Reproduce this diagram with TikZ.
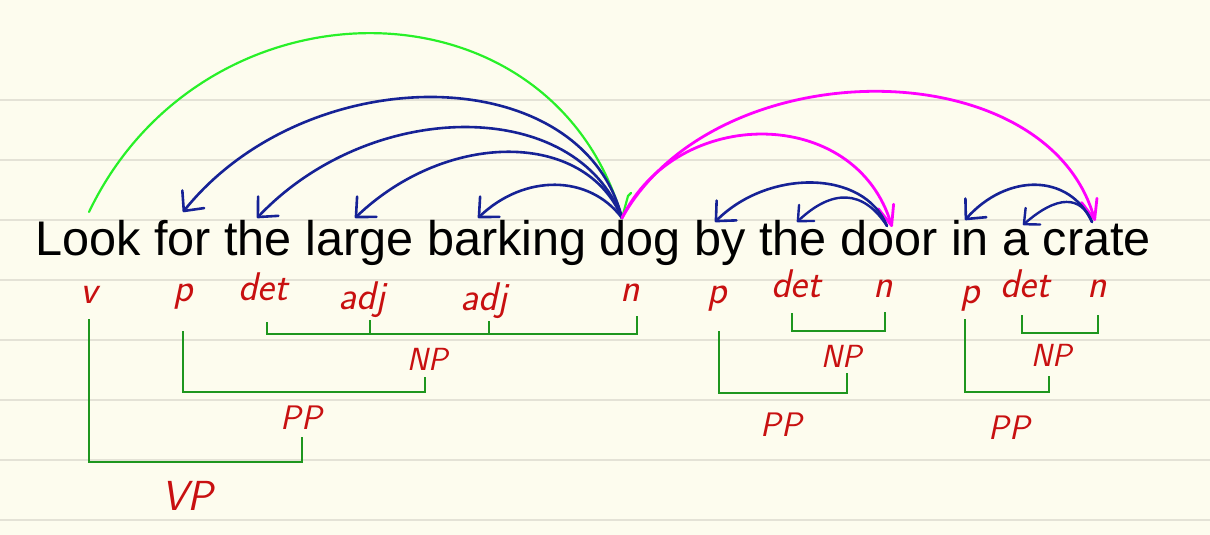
\documentclass[tikz,border=0pt]{standalone}
\usepackage{fontspec}
\newfontfamily\sent{Liberation Sans}
\usetikzlibrary{arrows.meta}
\definecolor{paper}{RGB}{253,252,238}
\definecolor{ruling}{RGB}{228,226,214}
\definecolor{inkblue}{RGB}{22,34,150}
\definecolor{inkmag}{RGB}{255,0,255}
\definecolor{inklime}{RGB}{40,240,40}
\definecolor{inkgreen}{RGB}{30,150,30}
\definecolor{inkred}{RGB}{200,16,16}
\begin{document}
\begin{tikzpicture}[x=0.5pt,y=-0.5pt,
  dep/.style={draw=inkblue,line width=1.3pt,line cap=round,line join=round,-{Straight Barb[length=7.5pt,width=14pt,round]}},
  depsmall/.style={draw=inkblue,line width=1.2pt,line cap=round,line join=round,-{Straight Barb[length=6pt,width=11pt,round]}},
  modarc/.style={draw=inkmag,line width=1.4pt,line cap=round,line join=round,-{Straight Barb[length=10pt,width=8pt,round]}},
  rootarc/.style={draw=inklime,line width=1.1pt,line cap=round},
  brk/.style={draw=inkgreen,line width=1.45pt},
  poslbl/.style={text=inkred,font=\sffamily\slshape\fontsize{20pt}{20pt}\selectfont,inner sep=0pt},
  phrlbl/.style={text=inkred,font=\sffamily\slshape\fontsize{16pt}{16pt}\selectfont,inner sep=0pt},
]
% paper
\fill[paper] (0,0) rectangle (1210,535);
\useasboundingbox (0,0) rectangle (1210,535);
\foreach \yy in {100,160,...,520}
  \draw[ruling,line width=1pt] (0,\yy) -- (1210,\yy);

% sentence
\node[anchor=base west,inner sep=0pt,font=\sent\fontsize{24.3pt}{29pt}\selectfont] (sentence) at (35,255)
  {Look for the large barking dog by the door in a crate};

% arc end points
\coordinate (hub) at (622,218);
\coordinate (gs) at (89,212);
\coordinate (tFor) at (183,212);
\coordinate (tThe) at (257,218);
\coordinate (tLarge) at (355,218);
\coordinate (tBarking) at (478,218);
\coordinate (door) at (887,226);
\coordinate (tDoor) at (892,227);
\coordinate (tBy) at (715,222);
\coordinate (tTheB) at (797,222);
\coordinate (crate) at (1092,222);
\coordinate (tCrate) at (1095,221);
\coordinate (tIn) at (965,220);
\coordinate (tA) at (1023,225);

% root arc (green)
\draw[rootarc] (gs) .. controls +(115,-240) and +(-70,-245) .. (hub);
\draw[rootarc] (hub) -- ++(6,-22) -- ++(3,-3);

% blue arcs from dog
\draw[dep] (hub) .. controls +(-41,-160) and +(124,-154) .. (tFor);
\draw[dep] (hub) .. controls +(-45,-121) and +(115,-121) .. (tThe);
\draw[dep] (hub) .. controls +(-37,-88) and +(92,-88) .. (tLarge);
\draw[dep] (hub) .. controls +(-33,-44) and +(46,-44) .. (tBarking);

% magenta arcs
\draw[modarc] (hub) .. controls +(55,-113) and +(-36,-122) .. (tDoor);
\draw[modarc] (hub) .. controls +(94,-169) and +(-48,-172) .. (tCrate);

% blue arcs from door and crate
\draw[dep] (door) .. controls +(-23,-57) and +(53,-53) .. (tBy);
\draw[depsmall] (door) .. controls +(-24,-37) and +(35,-33) .. (tTheB);
\draw[dep] (crate) .. controls +(-23,-49) and +(42,-47) .. (tIn);
\draw[depsmall] (crate) .. controls +(-11,-27) and +(34,-30) .. (tA);

% POS labels
\node[poslbl] (v) at (89,295) {v};
\node[poslbl] (p1) at (183,297) {p};
\node[poslbl] (det1) at (263,287) {det};
\node[poslbl] (adj1) at (362,300) {adj};
\node[poslbl] (adj2) at (484,301) {adj};
\node[poslbl] (n1) at (630,293) {n};
\node[poslbl] (p2) at (717,299) {p};
\node[poslbl] (det2) at (796,284) {det};
\node[poslbl] (n2) at (883,289) {n};
\node[poslbl] (p3) at (970,299) {p};
\node[poslbl] (det3) at (1025,284) {det};
\node[poslbl] (n3) at (1097,289) {n};

% phrase labels
\node[phrlbl] (np1) at (427,359) {NP};
\node[phrlbl,font=\sffamily\slshape\fontsize{17pt}{17pt}\selectfont] (pp1) at (301,418) {PP};
\node[phrlbl,font=\sffamily\slshape\fontsize{21pt}{21pt}\selectfont] (vp) at (187,496) {VP};
\node[phrlbl] (np2) at (841,356) {NP};
\node[phrlbl,font=\sffamily\slshape\fontsize{17pt}{17pt}\selectfont] (pp2) at (781,425) {PP};
\node[phrlbl] (np3) at (1051,355) {NP};
\node[phrlbl,font=\sffamily\slshape\fontsize{17pt}{17pt}\selectfont] (pp3) at (1009,428) {PP};

% brackets
\draw[brk] (89,319) -- (89,462) -- (302,462) -- (302,437);
\draw[brk] (183,331) -- (183,392) -- (425,392) -- (425,377);
\draw[brk] (267,322) -- (267,334) -- (637,334) -- (637,316);
\draw[brk] (370,320) -- (370,334);
\draw[brk] (489,321) -- (489,334);
\draw[brk] (719,331) -- (719,393) -- (847,393) -- (847,373);
\draw[brk] (792,313) -- (792,331) -- (885,331) -- (885,312);
\draw[brk] (965,319) -- (965,392) -- (1049,392) -- (1049,376);
\draw[brk] (1022,315) -- (1022,333) -- (1098,333) -- (1098,315);
\end{tikzpicture}
\end{document}
